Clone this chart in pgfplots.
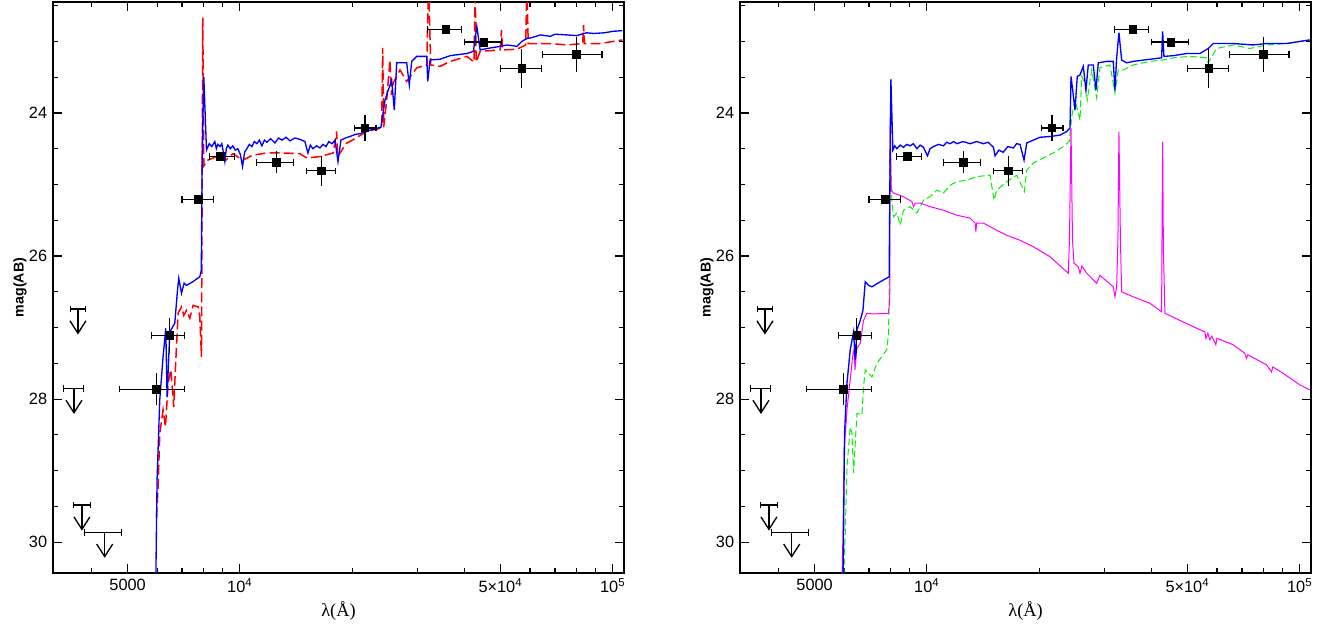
\documentclass[border=0pt]{standalone}
\usepackage{fontspec}
\usepackage{pgfplots}
\usepackage{pgfplotstable}
\pgfplotsset{compat=1.18}
\newfontfamily\lib{Liberation Sans}
\newfontfamily\libserif{Liberation Serif}

\pgfdeclareplotmark{vee}{%
  \pgfpathmoveto{\pgfqpoint{-4.8pt}{7.5pt}}%
  \pgfpathlineto{\pgfqpoint{0pt}{0pt}}%
  \pgfpathlineto{\pgfqpoint{4.8pt}{7.5pt}}%
  \pgfusepathqstroke}

% observed photometry: wavelength, mag, x error minus/plus, y error
\pgfplotstableread{
lam mag xm xp ye
5975 27.86 1211 1142 0.18
6489 27.11 695 628 0.20
7731 25.21 731 785 0.0
8874 24.61 564 822 0.0
12548 24.69 1461 1358 0.11
16569 24.81 1462 1498 0.16
21656 24.21 1385 1526 0.14
35663 22.83 3758 3713 0.0
45106 23.01 4996 5188 0.0
57055 23.38 6945 7245 0.23
79800 23.18 14980 13740 0.20
}\obs

% upper limits: wavelength, limit, x error minus/plus, arrow length, arrow tip
\pgfplotstableread{
lam mag xm xp len tip
3680 26.74 168 180 0.34 27.08
3591 27.85 221 222 0.34 28.19
3772 29.48 188 202 0.34 29.82
4341 29.86 504 473 0.34 30.20
}\ulim

\definecolor{cblue}{RGB}{0,0,255}
\definecolor{cred}{RGB}{255,0,0}
\definecolor{cgreen}{RGB}{0,240,0}
\definecolor{cmag}{RGB}{255,0,255}

\begin{document}
\begin{tikzpicture}
\useasboundingbox (0,0) rectangle (800.4pt,375.6pt);

% ---------------- left panel ----------------
\begin{axis}[at={(31.8pt,31.8pt)}, anchor=south west,
    scale only axis, width=342.6pt, height=342.6pt,
    xmode=log, xmin=3155, xmax=107200,
    ymin=22.45, ymax=30.43, y dir=reverse,
    axis line style={line width=1.2pt},
    tick style={black, line width=0.7pt},
    major tick length=5.4pt, minor tick length=3pt,
    tick align=inside,
    xtick={5000,10000,50000,100000},
    xticklabels={5000,10\textsuperscript{4},5×10\textsuperscript{4},10\textsuperscript{5}},
    minor xtick={4000,6000,7000,8000,9000,20000,30000,40000,60000,70000,80000,90000},
    ytick={24,26,28,30},
    yticklabels={24,26,28,30},
    minor ytick={22.5,23,23.5,24.5,25,25.5,26.5,27,27.5,28.5,29,29.5},
    ticklabel style={font=\lib\fontsize{9.8}{11}\selectfont},
    xlabel={λ(Å)},
    ylabel={mag(AB)},
    xlabel style={font=\libserif\fontsize{11}{13}\selectfont, at={(axis description cs:0.5,-0.0666)}, anchor=center},
    ylabel style={font=\lib\bfseries\fontsize{8.5}{10}\selectfont, at={(axis description cs:-0.0578,0.5)}, anchor=center},
  ]
\addplot[cred, line width=0.9pt, dash pattern=on 6pt off 2.5pt] coordinates {
(5976,29.65) (6036,29.23) (6099,28.48) (6225,28.15) (6318,28.39) (6421,27.78) (6529,27.59) (6650,28.11) (6721,27.55) (6831,26.80) (6975,26.71) (7075,26.83) (7194,26.76) (7340,26.87) (7493,26.69) (7729,26.71) (7809,26.85) (7891,27.41) (7955,22.67) (8005,24.74) (8205,24.66) (8479,24.63) (8837,24.59) (9172,24.66) (9577,24.57) (10187,24.66) (10837,24.59) (11794,24.56) (13069,24.56) (14490,24.57) (15107,24.63) (16398,24.61) (17803,24.56) (18180,24.26) (18293,24.61) (19337,24.42) (19737,24.40) (21882,24.26) (24006,24.21) (24155,23.09) (24305,24.20) (24757,23.82) (25266,23.26) (25504,23.75) (25793,23.58) (26884,23.40) (28019,23.56) (29810,23.37) (31708,23.33) (32063,22.2) (32505,23.33) (34430,23.35) (36626,23.28) (40611,23.21) (42487,23.29) (42751,22.2) (43017,23.29) (44094,23.14) (49888,23.12) (50290,22.84) (50662,23.12) (55324,23.11) (58424,23.05) (58857,22.2) (59334,23.03) (67951,23.03) (75407,23.05) (83080,23.03) (83485,22.77) (83946,23.03) (92575,23.03) (106050,22.98)
};
\addplot[cblue, line width=0.8pt] coordinates {
(5950,30.6) (5998,29.13) (6099,28.01) (6225,27.41) (6330,27.01) (6381,27.97) (6489,27.06) (6692,26.94) (6804,26.48) (6859,26.31) (6975,26.52) (7089,26.38) (7194,26.41) (7479,26.36) (7809,26.29) (7881,26.20) (7930,24.52) (8005,23.50) (8139,24.52) (8280,24.43) (8410,24.47) (8568,24.40) (8650,24.50) (8728,24.44) (8850,24.47) (8948,24.43) (9030,24.55) (9114,24.68) (9200,24.50) (9285,24.45) (9430,24.50) (9577,24.46) (9720,24.52) (9877,24.50) (10030,24.58) (10167,24.75) (10300,24.55) (10442,24.50) (10600,24.44) (10770,24.47) (10940,24.40) (11108,24.43) (11280,24.38) (11457,24.46) (11640,24.38) (11816,24.41) (12100,24.36) (12417,24.42) (12700,24.35) (12967,24.38) (13300,24.34) (13624,24.39) (14050,24.35) (14490,24.37) (14944,24.40) (15226,24.56) (15450,24.45) (15704,24.50) (16050,24.46) (16398,24.49) (16700,24.44) (17018,24.47) (17330,24.40) (17660,24.43) (18000,24.38) (18331,24.68) (18672,24.38) (19200,24.35) (19737,24.33) (20400,24.30) (21001,24.29) (21650,24.26) (22336,24.24) (23100,24.22) (23901,24.20) (24502,23.82) (25006,23.68) (25535,23.54) (25950,23.96) (26341,23.30) (27438,23.30) (28019,23.30) (28474,23.61) (28898,23.28) (29810,23.21) (31708,23.21) (31906,23.56) (32363,23.26) (34430,23.25) (36626,23.20) (40611,23.17) (42301,23.14) (43198,22.79) (44094,23.12) (46000,23.10) (49888,23.07) (52000,23.05) (55324,23.07) (57058,23.00) (58857,22.96) (60500,22.95) (63906,22.91) (68000,22.93) (70000,22.90) (75407,22.91) (80000,22.92) (85000,22.88) (88818,22.89) (95000,22.88) (100000,22.86) (106050,22.85)
};
% upper limits: bars with end caps, stems, and open arrow heads
\addplot[black, only marks, mark=*, mark size=0pt,
  error bars/x dir=both, error bars/x explicit, error bars/error mark=|,
  error bars/error bar style={line width=0.7pt, black},
  error bars/error mark options={line width=0.7pt, black, mark size=2pt}]
  table[x=lam, y=mag, x error plus=xp, x error minus=xm] {\ulim};
\addplot[black, only marks, mark=*, mark size=0pt,
  error bars/y dir=plus, error bars/y explicit, error bars/error mark=none,
  error bars/error bar style={line width=0.7pt, black}]
  table[x=lam, y=mag, y error=len] {\ulim};
\addplot[black, only marks, mark=vee, mark options={line width=0.8pt, line join=miter}]
  table[x=lam, y=tip] {\ulim};
% detections
\addplot[black, only marks, mark=*, mark size=0pt,
  error bars/x dir=both, error bars/x explicit, error bars/error mark=|,
  error bars/error bar style={line width=0.7pt, black},
  error bars/error mark options={line width=0.7pt, black, mark size=2pt}]
  table[x=lam, y=mag, x error plus=xp, x error minus=xm] {\obs};
\addplot[black, only marks, mark=square*, mark size=2.3pt,
  error bars/y dir=both, error bars/y explicit, error bars/error mark=-,
  error bars/error bar style={line width=0.7pt, black},
  error bars/error mark options={line width=0.7pt, black, mark size=2pt}]
  table[x=lam, y=mag, y error=ye] {\obs};
\end{axis}

% ---------------- right panel ----------------
\begin{axis}[at={(444pt,31.8pt)}, anchor=south west,
    scale only axis, width=342.6pt, height=342.6pt,
    xmode=log, xmin=3155, xmax=107200,
    ymin=22.45, ymax=30.43, y dir=reverse,
    axis line style={line width=1.2pt},
    tick style={black, line width=0.7pt},
    major tick length=5.4pt, minor tick length=3pt,
    tick align=inside,
    xtick={5000,10000,50000,100000},
    xticklabels={5000,10\textsuperscript{4},5×10\textsuperscript{4},10\textsuperscript{5}},
    minor xtick={4000,6000,7000,8000,9000,20000,30000,40000,60000,70000,80000,90000},
    ytick={24,26,28,30},
    yticklabels={24,26,28,30},
    minor ytick={22.5,23,23.5,24.5,25,25.5,26.5,27,27.5,28.5,29,29.5},
    ticklabel style={font=\lib\fontsize{9.8}{11}\selectfont},
    xlabel={λ(Å)},
    ylabel={mag(AB)},
    xlabel style={font=\libserif\fontsize{11}{13}\selectfont, at={(axis description cs:0.5,-0.0666)}, anchor=center},
    ylabel style={font=\lib\bfseries\fontsize{8.5}{10}\selectfont, at={(axis description cs:-0.0578,0.5)}, anchor=center},
  ]
\addplot[cgreen, line width=0.6pt, dash pattern=on 4pt off 2pt] coordinates {
(5979,30.6) (6042,29.87) (6106,28.95) (6231,28.39) (6297,28.48) (6360,29.03) (6495,28.20) (6697,28.22) (6764,27.83) (6836,27.59) (6977,27.64) (7124,27.69) (7345,27.50) (7813,27.31) (7891,27.08) (7925,26.62) (7952,24.66) (7988,24.52) (8056,25.22) (8136,25.45) (8312,25.40) (8482,25.57) (8656,25.36) (9022,25.31) (9401,25.40) (9793,25.22) (10205,25.17) (10636,25.08) (11078,25.12) (11545,25.01) (12033,24.96) (12799,24.94) (13615,24.89) (14776,24.87) (15145,25.22) (15399,25.08) (16381,24.96) (17420,24.87) (18260,25.10) (18532,24.80) (19300,24.70) (20525,24.63) (21832,24.56) (23221,24.47) (24099,24.40) (24456,24.05) (24961,23.82) (25742,24.10) (26008,23.49) (26546,23.58) (26925,23.82) (27669,23.40) (28533,23.79) (29118,23.37) (30974,23.33) (31944,23.72) (32604,23.40) (33626,23.40) (35762,23.33) (39650,23.28) (43040,23.26) (45775,23.23) (50730,23.21) (56250,23.23) (56815,23.30) (59840,23.10) (66270,23.05) (73480,23.10) (81440,23.05) (92130,23.03) (106370,22.98)
};
\addplot[cmag, line width=0.6pt] coordinates {
(5920,30.6) (5957,29.87) (6005,28.71) (6106,28.15) (6231,27.73) (6320,27.41) (6387,27.29) (6415,27.59) (6495,27.29) (6628,27.22) (6764,26.90) (6909,26.80) (7194,26.81) (7891,26.80) (7952,26.62) (7974,24.07) (8024,25.08) (8136,25.12) (8656,25.17) (9116,25.24) (9207,25.31) (9305,25.26) (9596,25.26) (10205,25.31) (11078,25.36) (12033,25.43) (13062,25.47) (13474,25.54) (13533,25.66) (13599,25.54) (14180,25.54) (15399,25.64) (16381,25.71) (17779,25.78) (19300,25.87) (21394,26.01) (23945,26.24) (24123,25.78) (24354,24.21) (24578,25.78) (24805,26.10) (25470,26.15) (25742,26.24) (26062,26.14) (26826,26.24) (28533,26.38) (29118,26.27) (31615,26.43) (31944,26.57) (32284,26.43) (32540,25.78) (32740,24.26) (33045,25.78) (33295,26.50) (35762,26.57) (39650,26.66) (42614,26.78) (42693,25.92) (42880,24.40) (43090,25.92) (43492,26.80) (47700,26.90) (53970,27.03) (55660,27.06) (56010,27.15) (56710,27.08) (57410,27.17) (58120,27.12) (59570,27.24) (59940,27.15) (66270,27.24) (71240,27.36) (71980,27.43) (72560,27.38) (81440,27.52) (83990,27.62) (84670,27.55) (90230,27.64) (100000,27.80) (106370,27.87)
};
\addplot[cblue, line width=0.8pt] coordinates {
(5957,30.6) (5979,29.87) (6016,28.48) (6106,27.78) (6231,27.31) (6360,27.06) (6427,27.45) (6495,27.03) (6628,26.90) (6740,26.76) (6836,26.36) (6977,26.41) (7124,26.43) (7498,26.36) (7925,26.29) (7974,24.52) (8009,23.53) (8107,24.52) (8200,24.46) (8312,24.50) (8480,24.45) (8656,24.48) (8840,24.44) (9022,24.46) (9200,24.43) (9401,24.50) (9600,24.45) (9793,24.48) (10037,24.60) (10200,24.50) (10416,24.47) (10750,24.44) (11078,24.46) (11300,24.41) (11545,24.43) (11800,24.40) (12033,24.43) (12500,24.40) (13062,24.43) (13600,24.40) (14180,24.43) (14600,24.41) (15083,24.48) (15240,24.60) (15600,24.52) (16010,24.55) (16500,24.47) (17061,24.49) (17400,24.43) (17779,24.44) (18223,24.66) (18532,24.42) (19300,24.38) (20114,24.34) (21394,24.33) (22757,24.31) (23714,24.26) (24204,24.21) (24354,23.49) (24608,23.68) (24961,23.96) (25315,23.49) (25742,23.47) (26270,23.35) (26710,23.68) (27094,23.33) (27943,23.33) (28411,23.68) (28819,23.30) (30350,23.28) (31615,23.28) (31944,23.68) (32284,23.23) (32740,22.88) (33295,23.26) (34340,23.30) (35762,23.28) (39650,23.25) (42614,23.23) (42880,22.86) (43227,23.21) (45775,23.20) (49716,23.17) (53970,23.17) (56815,23.10) (58600,23.03) (66270,23.03) (75000,23.05) (81440,23.03) (92130,23.03) (106370,22.98)
};
\addplot[black, only marks, mark=*, mark size=0pt,
  error bars/x dir=both, error bars/x explicit, error bars/error mark=|,
  error bars/error bar style={line width=0.7pt, black},
  error bars/error mark options={line width=0.7pt, black, mark size=2pt}]
  table[x=lam, y=mag, x error plus=xp, x error minus=xm] {\ulim};
\addplot[black, only marks, mark=*, mark size=0pt,
  error bars/y dir=plus, error bars/y explicit, error bars/error mark=none,
  error bars/error bar style={line width=0.7pt, black}]
  table[x=lam, y=mag, y error=len] {\ulim};
\addplot[black, only marks, mark=vee, mark options={line width=0.8pt, line join=miter}]
  table[x=lam, y=tip] {\ulim};
\addplot[black, only marks, mark=*, mark size=0pt,
  error bars/x dir=both, error bars/x explicit, error bars/error mark=|,
  error bars/error bar style={line width=0.7pt, black},
  error bars/error mark options={line width=0.7pt, black, mark size=2pt}]
  table[x=lam, y=mag, x error plus=xp, x error minus=xm] {\obs};
\addplot[black, only marks, mark=square*, mark size=2.3pt,
  error bars/y dir=both, error bars/y explicit, error bars/error mark=-,
  error bars/error bar style={line width=0.7pt, black},
  error bars/error mark options={line width=0.7pt, black, mark size=2pt}]
  table[x=lam, y=mag, y error=ye] {\obs};
\end{axis}
\end{tikzpicture}
\end{document}
